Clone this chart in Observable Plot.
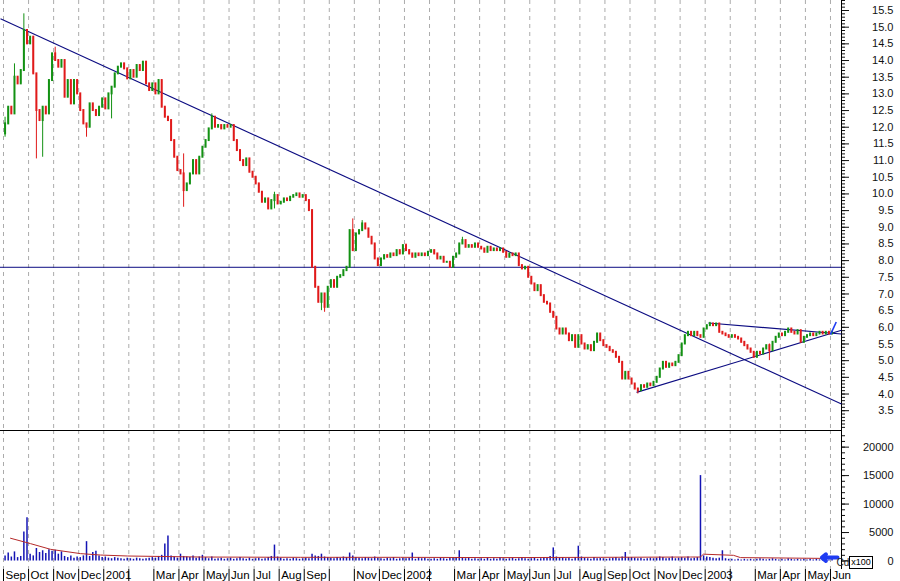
<!DOCTYPE html>
<html><head><meta charset="utf-8">
<script src="https://cdn.jsdelivr.net/npm/d3@7"></script>
<script src="https://cdn.jsdelivr.net/npm/@observablehq/plot@0.6"></script>
<style>
html,body{margin:0;padding:0;background:#fff;}
#wrap{position:relative;width:900px;height:581px;overflow:hidden;background:#fff;}
#wrap svg{display:block;}
.x100{position:absolute;left:849px;top:556px;width:22px;height:11px;border:1px solid #000;font:9px "Liberation Sans",Arial,sans-serif;line-height:11px;text-align:center;background:#fff;color:#000;}
</style></head><body><div id="wrap"></div>
<script>
// Month axis: Sep 2000 .. Jun 2003 (t = months since Sep 2000)
const monthLabels = ["Sep","Oct","Nov","Dec","2001","","Mar","Apr","May","Jun","Jul","Aug",
  "Sep","","Nov","Dec","2002","","Mar","Apr","May","Jun","Jul","Aug",
  "Sep","Oct","Nov","Dec","2003","","Mar","Apr","May","Jun"];

// Closing prices, 8 bars per month
const closes = [
  [12.1, 12.6, 12.4, 13.5, 13.3, 13.7, 14.9, 14.5],
  [14.7, 13.6, 12.5, 12.2, 12.6, 12.4, 13.4, 14.2],
  [14.0, 13.8, 14.0, 12.9, 13.4, 12.7, 13.4, 13.0],
  [12.5, 12.1, 12.0, 12.7, 12.5, 12.35, 12.6, 12.85],
  [12.55, 13.0, 13.2, 13.6, 13.8, 13.9, 13.75, 13.45],
  [13.7, 13.5, 13.85, 13.7, 13.95, 13.3, 13.1, 13.3],
  [13.0, 13.4, 12.6, 12.3, 12.2, 11.6, 11.1, 10.7],
  [10.6, 10.1, 10.3, 10.6, 11.0, 10.6, 11.1, 11.4],
  [11.6, 11.95, 12.3, 12.0, 12.05, 11.95, 12.05, 12.0],
  [12.05, 11.6, 11.3, 11.0, 10.85, 11.05, 10.65, 10.5],
  [10.3, 10.05, 9.75, 9.85, 9.55, 9.8, 9.95, 9.7],
  [9.75, 9.85, 9.8, 9.9, 9.95, 10.0, 9.9, 9.95],
  [9.8, 9.5, 7.8, 7.2, 6.75, 7.0, 6.6, 7.2],
  [7.4, 7.2, 7.5, 7.55, 7.7, 7.8, 8.9, 8.3],
  [8.8, 8.9, 9.1, 8.95, 8.7, 8.5, 8.05, 7.85],
  [8.05, 8.15, 8.1, 8.2, 8.15, 8.3, 8.2, 8.45],
  [8.3, 8.2, 8.1, 8.2, 8.15, 8.2, 8.15, 8.25],
  [8.3, 8.2, 8.05, 8.1, 7.95, 7.95, 7.8, 8.1],
  [8.2, 8.5, 8.6, 8.4, 8.45, 8.4, 8.5, 8.4],
  [8.35, 8.25, 8.4, 8.3, 8.35, 8.3, 8.35, 8.25],
  [8.1, 8.2, 8.15, 8.2, 7.85, 7.75, 7.8, 7.5],
  [7.3, 7.1, 7.25, 6.95, 6.75, 6.7, 6.45, 6.3],
  [5.95, 5.8, 5.95, 5.8, 5.6, 5.75, 5.4, 5.75],
  [5.5, 5.35, 5.45, 5.3, 5.55, 5.8, 5.6, 5.45],
  [5.4, 5.3, 5.25, 5.1, 4.95, 4.45, 4.65, 4.45],
  [4.3, 4.15, 4.1, 4.25, 4.2, 4.3, 4.25, 4.35],
  [4.5, 4.75, 4.95, 4.8, 4.9, 4.85, 4.95, 5.15],
  [5.5, 5.75, 5.85, 5.75, 5.85, 5.75, 5.7, 5.95],
  [6.05, 6.1, 6.05, 6.1, 5.85, 5.8, 5.75, 5.7],
  [5.75, 5.7, 5.65, 5.55, 5.45, 5.35, 5.25, 5.1],
  [5.25, 5.2, 5.35, 5.45, 5.3, 5.55, 5.7, 5.8],
  [5.75, 5.85, 5.95, 5.85, 5.8, 5.9, 5.55, 5.7],
  [5.75, 5.8, 5.75, 5.8, 5.85, 5.8, 5.85, 5.8],
  [5.85]
];
const firstOpen = 11.8;

// Long wicks: [month, bar, high, low]
const wickExtremes = [
  [0,0,12.3,11.7],[0,3,13.9,null],[0,6,15.4,null],[1,2,null,11.05],[1,4,null,11.1],
  [2,0,14.4,null],[3,2,null,11.7],[4,2,null,12.25],[7,1,11.2,9.6],[8,2,12.4,null],
  [10,6,10.05,9.55],[12,5,null,6.5],[12,6,null,6.45],[13,7,9.25,null],[14,2,9.2,null],
  [16,0,8.5,null],[18,2,8.7,null],[25,2,null,4.0],[28,1,6.15,null],[30,4,5.5,5.0]
];

// Volume (x100), 8 bars per month
const volumes = [
  [900,1400,700,1600,600,800,5100,7600],
  [1200,900,2200,1500,1800,1300,2000,1700],
  [1900,1200,1600,800,600,900,500,700],
  [600,900,3400,800,1500,1700,900,600],
  [700,500,400,600,500,400,300,500],
  [400,300,500,400,300,400,500,600],
  [500,800,1000,3000,4400,900,700,500],
  [1200,800,700,600,900,500,700,1000],
  [600,400,700,300,400,500,300,400],
  [500,300,400,600,400,300,500,300],
  [400,500,300,400,600,800,2800,700],
  [500,300,400,300,500,400,300,400],
  [500,400,1200,900,800,1200,700,600],
  [500,400,600,500,700,600,1400,900],
  [600,500,400,600,500,400,700,500],
  [400,300,500,400,600,300,400,500],
  [400,500,1400,300,600,400,500,300],
  [300,400,300,500,400,300,500,600],
  [600,1800,600,400,500,300,400,300],
  [400,300,500,300,400,300,600,400],
  [300,400,500,300,400,600,400,300],
  [400,500,300,400,600,500,800,2300],
  [700,500,600,400,500,300,600,2600],
  [700,500,400,300,600,400,500,400],
  [300,400,500,600,400,700,1500,600],
  [600,500,400,500,300,400,500,400],
  [500,700,600,400,500,700,400,500],
  [600,500,700,400,500,600,15000,900],
  [700,600,500,400,500,1800,400,300],
  [300,200,300,200,300,200,300,200],
  [300,400,300,200,300,400,300,200],
  [300,200,400,300,200,300,200,300],
  [200,300,200,300,200,300,200,200],
  [300]
];

// Volume moving average: [t, value]
const volumeMA = [[0.28,4000],[1.08,3050],[1.88,2050],[3.07,1300],[3.87,1050],[4.95,880],
  [6.26,800],[7.86,700],[11.85,650],[15.84,650],[19.83,600],[23.82,650],[27.41,700],
  [27.81,700],[27.93,1200],[29.13,1000],[29.41,600],[33.0,450]];

// Trend lines: [t1, p1, t2, p2]
const trendLines = [
  [-0.12, 15.25, 33.44, 3.7],
  [25.26, 4.05, 33.44, 5.91],
  [28.13, 6.13, 33.44, 5.80]
];
const levelLine = 7.8;
const lastTick = [33.0, 5.78, 33.23, 6.16];
const lastMarker = {t1: 33.28, t2: 32.66, v: 600};

const priceTicks = [3.5,4.0,4.5,5.0,5.5,6.0,6.5,7.0,7.5,8.0,8.5,9.0,9.5,10.0,10.5,11.0,11.5,12.0,12.5,13.0,13.5,14.0,14.5,15.0,15.5];
const volumeTicks = [0,5000,10000,15000,20000];

// ---- build ----
const xDomain = [-0.12, 33.44];
const priceDomain = [2.906, 15.80];
const volDomain = [-1490, 22920];
const months = monthLabels.map((label, i) => ({t: i, label}));
const wk = new Map(wickExtremes.map(([m,k,h,l]) => [m + "-" + k, {h, l}]));
const candles = [];
let prev = firstOpen;
closes.forEach((row, m) => row.forEach((c, k) => {
  const o = prev, w = wk.get(m + "-" + k) || {};
  candles.push({t: m + (k + 0.5) / 8, o, c,
    hi: Math.max(o, c, w.h ?? -Infinity), lo: Math.min(o, c, w.l ?? Infinity),
    v: volumes[m][k], up: c >= o});
  prev = c;
}));
const GREEN = "#139113", RED = "#e01a1a", NAVY = "#0c0c82";
const font = {fontFamily: "'Liberation Sans', Arial, sans-serif", fontSize: "11px", background: "#fff", color: "#111", overflow: "visible"};
const grid = Plot.ruleX(months, {x: "t", stroke: "#ababab", strokeDasharray: "4,4"});

const price = Plot.plot({
  width: 900, height: 430, marginLeft: 0, marginRight: 59, marginTop: 0, marginBottom: 0,
  style: font,
  x: {domain: xDomain, axis: null},
  y: {domain: priceDomain, axis: null},
  marks: [
    grid,
    Plot.axisY({anchor: "right", label: null, ticks: priceTicks, tickSize: 7, tickPadding: 45, textAnchor: "end", tickFormat: d => d.toFixed(1)}),
    Plot.axisY({anchor: "right", label: null, ticks: d3.range(3.0, 15.85, 0.1), tickSize: 3, text: null}),
    Plot.ruleX([xDomain[1]], {stroke: "#000"}),
    Plot.ruleY([levelLine], {stroke: NAVY}),
    Plot.link(trendLines, {x1: d => d[0], y1: d => d[1], x2: d => d[2], y2: d => d[3], stroke: NAVY, strokeWidth: 1.1}),
    Plot.ruleX(candles, {x: "t", y1: "lo", y2: "hi", stroke: d => d.up ? GREEN : RED, strokeWidth: 1}),
    Plot.ruleX(candles, {x: "t", y1: "o", y2: "c", stroke: d => d.up ? GREEN : RED, strokeWidth: 2, strokeLinecap: "square"}),
    Plot.link([lastTick], {x1: d => d[0], y1: d => d[1], x2: d => d[2], y2: d => d[3], stroke: "#1f3cf2", strokeWidth: 1.6})
  ]
});

const volume = Plot.plot({
  width: 900, height: 151, marginLeft: 0, marginRight: 59, marginTop: 0, marginBottom: 12,
  style: font,
  x: {domain: xDomain, axis: null},
  y: {domain: volDomain, axis: null},
  marks: [
    grid,
    Plot.ruleY([volDomain[1]], {stroke: "#000"}),
    Plot.ruleX([xDomain[1]], {stroke: "#000"}),
    Plot.axisY({anchor: "right", label: null, ticks: volumeTicks, tickSize: 7, tickPadding: 45, textAnchor: "end", tickFormat: d => String(d)}),
    Plot.axisY({anchor: "right", label: null, ticks: d3.range(0, 23000, 1000), tickSize: 3, text: null}),
    Plot.axisX({anchor: "bottom", label: null, ticks: months.map(d => d.t), tickSize: 12, text: null, stroke: "#000"}),
    Plot.text(months, {x: "t", text: "label", frameAnchor: "bottom", textAnchor: "start", lineAnchor: "bottom", dx: 2, dy: 9, fontSize: 11.5, fill: "#000"}),
    Plot.ruleX(candles, {x: "t", y1: 0, y2: "v", stroke: "#1414b4", strokeWidth: 1.5}),
    Plot.line(volumeMA, {x: d => d[0], y: d => d[1], stroke: "#b52a2a", strokeWidth: 1}),
    Plot.arrow([lastMarker], {x1: "t1", x2: "t2", y1: "v", y2: "v", stroke: "#1f3cf2", strokeWidth: 4, headLength: 7, headAngle: 80}),
    Plot.text(["Cd"], {frameAnchor: "bottom-right", textAnchor: "start", lineAnchor: "bottom", dx: -5, dy: -4, fontSize: 10, fill: "#222"})
  ]
});

const wrap = document.getElementById("wrap");
wrap.append(price, volume);
const box = document.createElement("div");
box.className = "x100"; box.textContent = "x100";
wrap.append(box);
</script></body></html>
